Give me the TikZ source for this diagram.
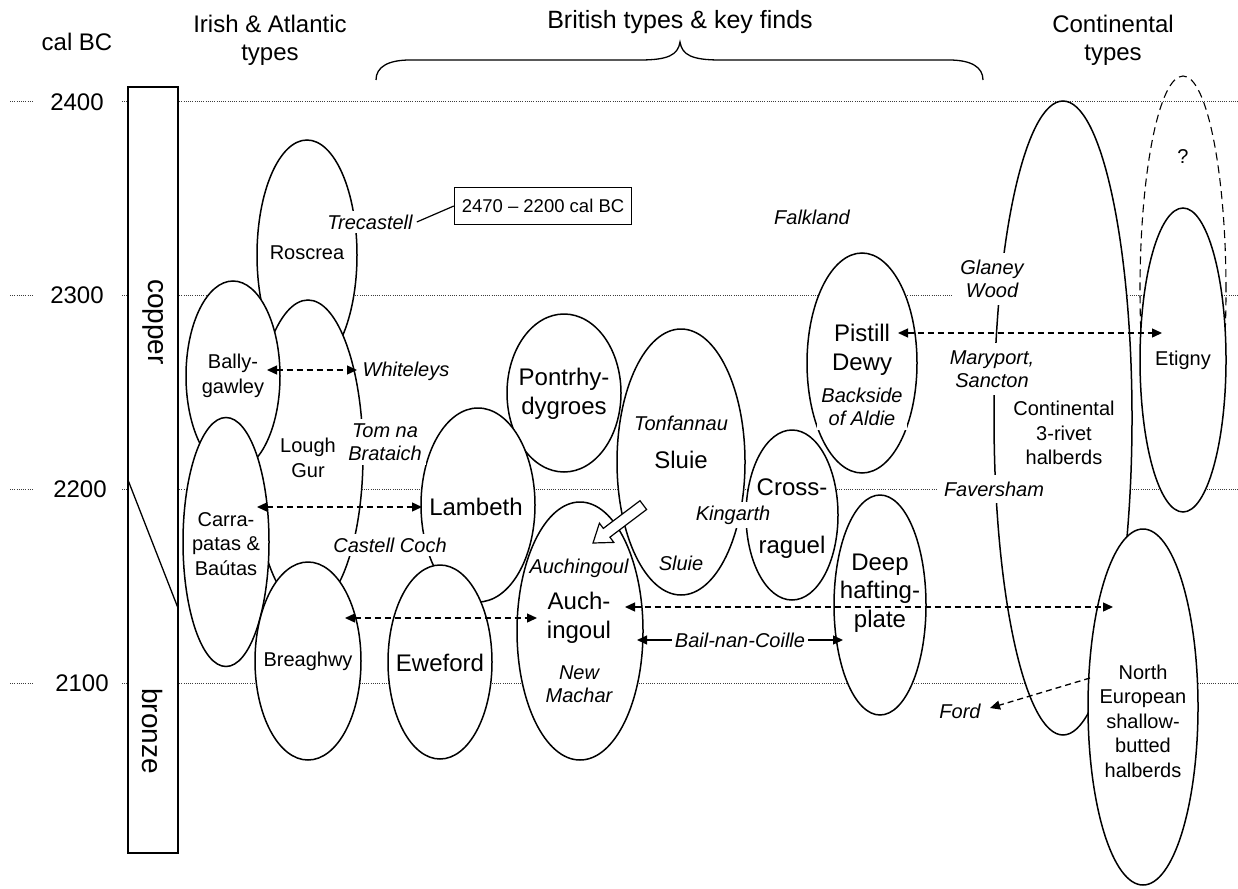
\documentclass[tikz,border=0pt]{standalone}
\usepackage{fontspec}
\setmainfont{Liberation Sans}
\usetikzlibrary{arrows.meta,shapes.geometric,positioning}
\definecolor{timegray}{RGB}{60,60,60}

\begin{document}
\begin{tikzpicture}[
    x=1pt, y=-1pt,
    >={Triangle[length=10pt, width=9pt]},
    timeline/.style={timegray, line width=1pt, dash pattern=on 1pt off 1.2pt},
    period/.style={ellipse, draw, fill=white, line width=1.5pt, inner sep=0pt},
    maybe period/.style={ellipse, draw, line width=1.1pt, dash pattern=on 8pt off 5pt, inner sep=0pt},
    head label/.style={font=\fontsize{24}{28}\selectfont, align=center},
    big type/.style={font=\fontsize{24}{28.5}\selectfont, align=center, inner sep=1pt},
    small type/.style={font=\fontsize{20}{24.5}\selectfont, align=center, inner sep=1pt},
    find/.style={font=\fontsize{20}{23.5}\selectfont\itshape, align=center, fill=white, inner sep=4pt},
    edge find/.style={find, inner xsep=7pt, inner ysep=7pt},
    link/.style={<->, line width=1.3pt, dash pattern=on 6pt off 4pt},
    one way/.style={->, line width=1.3pt, dash pattern=on 6pt off 4pt},
    solid link/.style={<->, line width=1.3pt}
]

\useasboundingbox (0,0) rectangle (1238,888);

% Time scale
\foreach \yy/\yr/\xx in {102/2400/77, 295/2300/77, 489/2200/80, 683/2100/82} {
    \draw[timeline] (10,\yy) -- (34,\yy);
    \draw[timeline] (122,\yy) -- (1238,\yy);
    \node[head label] at (\xx,\yy) {\yr};
}
\node[head label] (calbc) at (77,42) {cal BC};

% Copper / bronze bar
\draw[line width=1.5pt, fill=white] (128,87) rectangle (178,853);
\draw[line width=1.3pt] (128,480) -- (178,608);
\node[rotate=-90, font=\fontsize{28}{30}\selectfont] (copper) at (153,322) {copper};
\node[rotate=-90, font=\fontsize{28}{30}\selectfont] (bronze) at (153,731) {bronze};

% Column headers
\node[head label] (irish) at (270,40) {Irish \& Atlantic\\types};
\node[head label, font=\fontsize{25}{28}\selectfont] (british) at (680,22) {British types \& key finds};
\node[head label] (continental) at (1113,40) {Continental\\types};
\draw[line width=1.3pt] (376,80) .. controls (376,67) and (388,60) .. (410,60) -- (640,60)
    .. controls (668,60) and (678,55) .. (680,42) .. controls (682,55) and (692,60) .. (720,60)
    -- (949,60) .. controls (971,60) and (983,67) .. (983,80);

% === Irish & Atlantic types ===
\node[period, minimum width=100pt, minimum height=230pt] (roscrea) at (307,255) {};
\node[period, minimum width=110pt, minimum height=310pt] (loughgur) at (308,455) {};
\node[period, minimum width=94pt, minimum height=190pt] (ballygawley) at (233,376) {};
\node[period, minimum width=86pt, minimum height=249pt] (carrapatas) at (226,542) {};
\node[period, minimum width=106pt, minimum height=198pt] (breaghwy) at (308,661) {};

% === British types ===
\node[period, minimum width=114pt, minimum height=158pt] (pontrhydygroes) at (564,393) {};
\node[period, minimum width=114pt, minimum height=194pt] (lambeth) at (478,505) {};
\node[period, minimum width=104pt, minimum height=194pt] (eweford) at (440,662) {};
\node[period, minimum width=128pt, minimum height=266pt] (sluie) at (681,462) {};
\node[period, minimum width=126pt, minimum height=258pt] (auchingoul) at (580,631) {};
\node[period, minimum width=92pt, minimum height=170pt] (crossraguel) at (792,515) {};
\node[period, minimum width=92pt, minimum height=220pt] (deep) at (880,605) {};
\node[period, minimum width=110pt, minimum height=220pt] (pistill) at (862,363) {};

% === Continental types ===
\node[maybe period, minimum width=86pt, minimum height=428pt] (unknown) at (1183,290) {};
\node[period, minimum width=138pt, minimum height=634pt] (threerivet) at (1063,418) {};
\node[period, minimum width=110pt, minimum height=356pt] (northeuropean) at (1143,707) {};
\node[period, minimum width=86pt, minimum height=304pt] (etigny) at (1183,360) {};

% Type names
\node[small type] (roscrea-t) at (307,253) {Roscrea};
\node[small type] (bally-t) at (233,376) {Bally-\\gawley};
\node[small type] (lough-t) at (308,458) {Lough\\Gur};
\node[small type] (carra-t) at (226,544) {Carra-\\patas \&\\Baútas};
\node[small type] (breag-t) at (308,661) {Breaghwy};
\node[big type] (lambeth-t) at (476,507) {Lambeth};
\node[big type] (eweford-t) at (440,663) {Eweford};
\node[big type] (pontr-t) at (564,394) {Pontrhy-\\dygroes};
\node[big type] (sluie-t) at (681,460) {Sluie};
\node[big type] (cross-t) at (792,487) {Cross-};
\node[big type] (raguel-t) at (792,547) {raguel};
\node[big type] (auch-t) at (579,618) {Auch-\\ingoul};
\node[big type] (pistill-t) at (862,350) {Pistill\\Dewy};
\node[big type] (deep-t) at (880,593) {Deep\\hafting-\\plate};
\node[small type] (threerivet-t) at (1064,433) {Continental\\3-rivet\\halberds};
\node[small type] (etigny-t) at (1183,360) {Etigny};
\node[small type] (unknown-t) at (1183,157) {?};
\node[small type] (north-t) at (1143,721) {North\\European\\shallow-\\butted\\halberds};

% Key finds
\node[find] (trecastell) at (370,222) {Trecastell};
\node[find] (whiteleys) at (406,371) {Whiteleys};
\node[find] (tomna) at (385,442) {Tom na\\Brataich};
\node[find] (castellcoch) at (390,545) {Castell Coch};
\node[find] (tonfannau) at (681,423) {Tonfannau};
\node[find] (kingarth) at (733,515) {Kingarth};
\node[find] (sluie-f) at (681,563) {Sluie};
\node[find, fill=none] (auch-f) at (579,568) {Auchingoul};
\node[find] (newmachar) at (579,684) {New\\Machar};
\node[find] (backside) at (862,407) {Backside\\of Aldie};
\node[find] (falkland) at (812,217) {Falkland};
\node[edge find] (glaney) at (992,279) {Glaney\\Wood};
\node[edge find] (maryport) at (992,369) {Maryport,\\Sancton};
\node[edge find] (faversham) at (994,489) {Faversham};
\node[find] (ford) at (960,711) {Ford};

% Date box
\node[draw, line width=1.3pt, font=\fontsize{18.5}{20}\selectfont, minimum width=177pt,
      minimum height=37pt, inner sep=0pt] (datebox) at (543,206) {2470 \textendash{} 2200 cal BC};
\draw[line width=1.2pt] (trecastell.east) -- (datebox.west);

% Hollow arrow Sluie -> Auchingoul
\draw[line width=1.2pt, fill=white] (593,543) -- (613.8,542.4) -- (609.9,537.2) -- (646.6,509.5)
    -- (640.0,500.7) -- (603.3,528.4) -- (599.4,523.2) -- cycle;

% Links
\coordinate (wl-a) at (267,370);  \coordinate (wl-b) at (357,370);
\coordinate (lb-a) at (257,507);  \coordinate (lb-b) at (422,507);
\coordinate (br-a) at (345,618);  \coordinate (br-b) at (537,618);
\coordinate (ne-a) at (625,607);  \coordinate (ne-b) at (1113,607);
\coordinate (bc-a) at (637,640);  \coordinate (bc-b) at (843,640);
\coordinate (et-a) at (898,333);  \coordinate (et-b) at (1162,333);
\coordinate (fo-a) at (1090,678); \coordinate (fo-b) at (990,708);

\draw[link] (wl-a) -- (wl-b);
\draw[link] (lb-a) -- (lb-b);
\draw[link] (br-a) -- (br-b);
\draw[link] (ne-a) -- (ne-b);
\draw[link] (et-a) -- (et-b);
\draw[solid link] (bc-a) -- node[find, inner sep=3pt] (bailnan) {Bail-nan-Coille} (bc-b);
\draw[one way] (fo-a) -- (fo-b);

\end{tikzpicture}
\end{document}
